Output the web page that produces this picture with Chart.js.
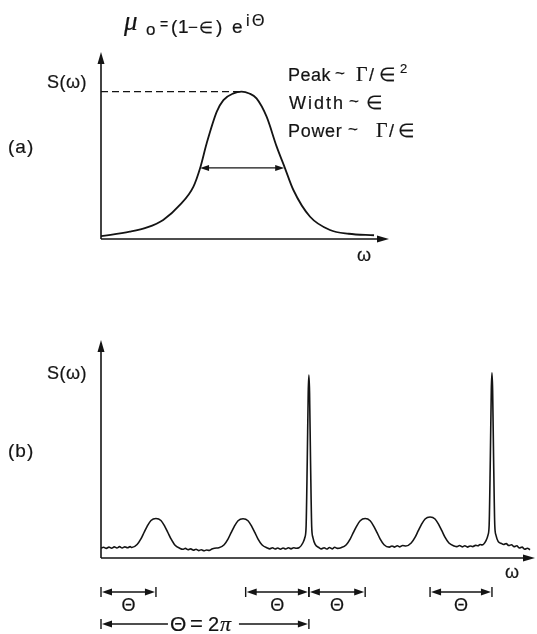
<!DOCTYPE html>
<html>
<head>
<meta charset="utf-8">
<script src="https://cdn.jsdelivr.net/npm/chart.js@4.4.1/dist/chart.umd.min.js"></script>
<style>
html, body { margin: 0; padding: 0; background: #fff; }
#wrap { position: relative; width: 537px; height: 634px; overflow: hidden; }
canvas { position: absolute; left: 0; }
#chartA { top: 0; }
#chartB { top: 300px; }
</style>
</head>
<body>
<div id="wrap">
  <canvas id="chartA" width="537" height="300"></canvas>
  <canvas id="chartB" width="537" height="334"></canvas>
</div>
<script>
// (a) 단일 공명 피크 S(ω)
const omegaA = [0, 1.0, 1.6, 2.16, 2.74, 3.21, 3.44, 3.67, 4.02, 4.25, 4.6, 4.88,
                5.15, 5.4, 5.75, 6.1, 6.39, 6.68, 7.26, 7.95, 8.6, 9.48];
const sA = [0.15, 0.39, 0.62, 1.02, 1.82, 2.8, 3.78, 5.12, 6.81, 7.43, 7.79, 7.88,
            7.78, 7.52, 6.54, 4.94, 3.78, 2.62, 1.19, 0.48, 0.28, 0.2];
const peakA = { omega: 4.88, s: 7.88 };
const widthA = { from: 3.44, to: 6.36, s: 3.8 };

// (b) 주기적 스펙트럼 (ω 단위: rad)
const omegaB = [
  0.00, 0.08, 0.16, 0.24, 0.32, 0.40, 0.48, 0.56, 0.64, 0.72, 0.80, 0.88,
  0.93, 1.09, 1.21, 1.30, 1.39, 1.51, 1.66, 1.81, 1.93, 2.02, 2.11, 2.23, 2.39,
  2.47, 2.55, 2.63, 2.71, 2.79, 2.87, 2.95, 3.03, 3.11, 3.19, 3.27, 3.35, 3.43,
  3.56, 3.72, 3.84, 3.93, 4.02, 4.14, 4.29, 4.44, 4.56, 4.65, 4.74, 4.86, 5.02,
  5.10, 5.18, 5.26, 5.34, 5.42, 5.50, 5.58, 5.66, 5.74, 5.82, 5.90,
  5.98, 6.10, 6.16, 6.195, 6.23, 6.26, 6.28, 6.30, 6.33, 6.365, 6.40, 6.47, 6.58,
  6.66, 6.74, 6.82, 6.90, 6.98, 7.06, 7.14,
  7.25, 7.41, 7.53, 7.62, 7.71, 7.83, 7.98, 8.13, 8.25, 8.34, 8.43, 8.55, 8.71,
  8.79, 8.87, 8.95, 9.03, 9.11,
  9.21, 9.37, 9.49, 9.58, 9.67, 9.79, 9.94, 10.09, 10.21, 10.30, 10.39, 10.51, 10.67,
  10.75, 10.83, 10.91, 10.99, 11.07, 11.15, 11.23, 11.31, 11.39, 11.45,
  11.51, 11.63, 11.69, 11.725, 11.76, 11.79, 11.81, 11.83, 11.86, 11.895, 11.93, 12.00, 12.08,
  12.16, 12.24, 12.32, 12.40, 12.48, 12.56, 12.64, 12.72, 12.80, 12.88, 12.96
];
const sB = [
  0.45, 0.49, 0.44, 0.50, 0.45, 0.51, 0.46, 0.52, 0.46, 0.51, 0.47, 0.52,
  0.48, 0.62, 0.89, 1.17, 1.44, 1.72, 1.81, 1.72, 1.44, 1.17, 0.89, 0.60, 0.44,
  0.40, 0.44, 0.38, 0.42, 0.36, 0.40, 0.34, 0.38, 0.33, 0.37, 0.35, 0.41, 0.45,
  0.47, 0.61, 0.88, 1.16, 1.43, 1.71, 1.80, 1.71, 1.43, 1.16, 0.88, 0.61, 0.46,
  0.42, 0.47, 0.41, 0.46, 0.40, 0.46, 0.41, 0.47, 0.42, 0.47, 0.45,
  0.47, 0.70, 0.95, 1.42, 4.40, 7.60, 8.39, 7.60, 4.40, 1.42, 0.95, 0.62, 0.48,
  0.42, 0.47, 0.41, 0.48, 0.42, 0.49, 0.44,
  0.47, 0.61, 0.88, 1.16, 1.43, 1.71, 1.81, 1.71, 1.43, 1.16, 0.88, 0.61, 0.50,
  0.55, 0.50, 0.56, 0.51, 0.57,
  0.55, 0.69, 0.96, 1.24, 1.51, 1.79, 1.88, 1.79, 1.51, 1.24, 0.96, 0.69, 0.55,
  0.52, 0.57, 0.51, 0.56, 0.50, 0.55, 0.52, 0.58, 0.56, 0.62,
  0.60, 0.80, 1.05, 1.50, 4.50, 7.70, 8.49, 7.70, 4.50, 1.50, 1.05, 0.75, 0.68,
  0.62, 0.66, 0.57, 0.61, 0.52, 0.56, 0.46, 0.50, 0.40, 0.45, 0.38
];
// Θ 구간 (ω 축 위 시작/끝)
const thetaSpans = [[0, 1.66], [4.37, 6.28], [6.28, 7.98], [9.94, 11.81]];
const twoPiSpan = [0, 6.28];

const INK = '#141414';
const SANS = '"Liberation Sans", Arial, sans-serif';
const SERIF = '"Liberation Serif", "DejaVu Serif", serif';

function arrowHead(ctx, x, y, dx, dy, len, half) {
    const bx = x - dx * len, by = y - dy * len;
    ctx.beginPath();
    ctx.moveTo(x, y);
    ctx.lineTo(bx - dy * half, by + dx * half);
    ctx.lineTo(bx + dy * half, by - dx * half);
    ctx.closePath();
    ctx.fill();
}

// 글자 하나씩 위치 지정 (살짝 굵게 보이도록 얇은 외곽선)
function put(ctx, str, x, y, font, spacing) {
    ctx.font = font;
    ctx.letterSpacing = (spacing || 0) + 'px';
    ctx.fillText(str, x, y);
    ctx.lineWidth = 0.2;
    ctx.strokeText(str, x, y);
    ctx.letterSpacing = '0px';
}

function span(ctx, x1, x2, y, gapFrom, gapTo) {
    ctx.lineWidth = 1.4;
    ctx.beginPath();
    ctx.moveTo(x1, y - 5); ctx.lineTo(x1, y + 5);
    ctx.moveTo(x2, y - 5); ctx.lineTo(x2, y + 5);
    if (gapFrom !== undefined) {
        ctx.moveTo(x1 + 4, y); ctx.lineTo(gapFrom, y);
        ctx.moveTo(gapTo, y); ctx.lineTo(x2 - 4, y);
    } else {
        ctx.moveTo(x1 + 4, y); ctx.lineTo(x2 - 4, y);
    }
    ctx.stroke();
    arrowHead(ctx, x1 + 1, y, -1, 0, 10, 3.5);
    arrowHead(ctx, x2 - 1, y, 1, 0, 10, 3.5);
}

const axesPlugin = {
    id: 'arrowAxes',
    beforeDatasetsDraw(chart) {
        const ctx = chart.ctx;
        const { left, right, top, bottom } = chart.chartArea;
        ctx.save();
        ctx.strokeStyle = INK;
        ctx.fillStyle = INK;
        ctx.lineWidth = 1.6;
        ctx.beginPath();
        ctx.moveTo(left, bottom); ctx.lineTo(left, top + 8);
        ctx.moveTo(left, bottom); ctx.lineTo(right - 8, bottom);
        ctx.stroke();
        arrowHead(ctx, left, top, 0, -1, 12, 3.5);
        arrowHead(ctx, right, bottom, 1, 0, 12, 3.5);
        ctx.restore();
    }
};

const panelAPlugin = {
    id: 'panelA',
    afterDraw(chart) {
        const ctx = chart.ctx;
        const x = chart.scales.x, y = chart.scales.y;
        ctx.save();
        ctx.strokeStyle = INK;
        ctx.fillStyle = INK;

        // 피크 높이 점선
        ctx.lineWidth = 1.1;
        ctx.setLineDash([7, 4]);
        ctx.beginPath();
        ctx.moveTo(x.getPixelForValue(0), y.getPixelForValue(peakA.s));
        ctx.lineTo(x.getPixelForValue(peakA.omega), y.getPixelForValue(peakA.s));
        ctx.stroke();
        ctx.setLineDash([]);

        // 폭 화살표
        const wy = y.getPixelForValue(widthA.s);
        const wx1 = x.getPixelForValue(widthA.from), wx2 = x.getPixelForValue(widthA.to);
        ctx.lineWidth = 1.3;
        ctx.beginPath();
        ctx.moveTo(wx1 + 5, wy); ctx.lineTo(wx2 - 5, wy);
        ctx.stroke();
        arrowHead(ctx, wx1, wy, -1, 0, 9, 3);
        arrowHead(ctx, wx2, wy, 1, 0, 9, 3);

        ctx.textBaseline = 'alphabetic';
        const f19 = `19px ${SANS}`, f18 = `18px ${SANS}`;
        // μo = (1−∈) e^iΘ
        put(ctx, 'μ', 124, 30, `italic 27px ${SERIF}`);
        put(ctx, 'o', 146, 35, `17px ${SANS}`);
        put(ctx, '=', 160, 29, `14px ${SANS}`);
        put(ctx, '(', 171, 33, f19);
        put(ctx, '1', 178, 33, f19);
        put(ctx, '−', 188, 33, `17px ${SANS}`);
        put(ctx, '∈', 199, 33, `16px ${SANS}`);
        put(ctx, ')', 216, 33, f19);
        put(ctx, 'e', 232, 33, f19);
        put(ctx, 'i', 246, 26, `16px ${SANS}`);
        put(ctx, 'Θ', 252, 26, `16px ${SANS}`);

        put(ctx, 'S(ω)', 47, 88, f18, 0.5);
        put(ctx, '(a)', 8, 153, `19px ${SANS}`, 1);
        put(ctx, 'ω', 357, 261, f18);

        put(ctx, 'Peak', 288, 81, f18, 0.5);
        put(ctx, '~', 335, 79, `17px ${SANS}`);
        put(ctx, 'Γ', 356, 81, `20px ${SERIF}`);
        put(ctx, '/', 369, 81, f18);
        put(ctx, '∈', 379, 81, `19px ${SANS}`);
        put(ctx, '2', 400, 73, `13px ${SANS}`);

        put(ctx, 'Width', 289, 109, f18, 2);
        put(ctx, '~', 349, 107, `17px ${SANS}`);
        put(ctx, '∈', 366, 109, `19px ${SANS}`);

        put(ctx, 'Power', 288, 137, f18, 0.7);
        put(ctx, '~', 348, 135, `17px ${SANS}`);
        put(ctx, 'Γ', 376, 137, `20px ${SERIF}`);
        put(ctx, '/', 389, 137, f18);
        put(ctx, '∈', 398, 137, `19px ${SANS}`);
        ctx.restore();
    }
};

const panelBPlugin = {
    id: 'panelB',
    afterDraw(chart) {
        const ctx = chart.ctx;
        const x = chart.scales.x;
        const base = chart.chartArea.bottom;
        ctx.save();
        ctx.strokeStyle = INK;
        ctx.fillStyle = INK;
        ctx.textBaseline = 'alphabetic';

        thetaSpans.forEach(([a, b]) => {
            const x1 = x.getPixelForValue(a), x2 = x.getPixelForValue(b);
            span(ctx, x1, x2, base + 34);
            ctx.textAlign = 'center';
            put(ctx, 'Θ', (x1 + x2) / 2, base + 53, `18px ${SANS}`);
            ctx.textAlign = 'left';
        });

        const p1 = x.getPixelForValue(twoPiSpan[0]), p2 = x.getPixelForValue(twoPiSpan[1]);
        const mid = (p1 + p2) / 2;
        span(ctx, p1, p2, base + 66, mid - 37, mid + 34);
        const ty = base + 73;
        put(ctx, 'Θ', mid - 35, ty, `21px ${SANS}`);
        put(ctx, '=', mid - 15, ty, `22px ${SANS}`);
        put(ctx, '2', mid + 3, ty, `20px ${SANS}`);
        put(ctx, 'π', mid + 15, ty, `italic 22px ${SERIF}`);

        put(ctx, 'S(ω)', 47, 79, `18px ${SANS}`, 0.5);
        put(ctx, '(b)', 8, 157, `19px ${SANS}`, 1);
        put(ctx, 'ω', 505, 278, `18px ${SANS}`);
        ctx.restore();
    }
};

function lineChart(id, xs, ys, xMax, padding, width, plugins) {
    return new Chart(document.getElementById(id), {
        type: 'line',
        data: {
            datasets: [{
                data: xs.map((w, i) => ({ x: w, y: ys[i] })),
                borderColor: INK,
                borderWidth: width,
                pointRadius: 0,
                fill: false,
                cubicInterpolationMode: 'monotone'
            }]
        },
        options: {
            responsive: false,
            animation: false,
            events: [],
            layout: { padding: padding },
            plugins: { legend: { display: false }, tooltip: { enabled: false } },
            scales: {
                x: { type: 'linear', min: 0, max: xMax, display: false },
                y: { min: 0, max: 10, display: false }
            }
        },
        plugins: plugins
    });
}

document.addEventListener('DOMContentLoaded', function() {
    lineChart('chartA', omegaA, sA, 10, { left: 101, right: 148, top: 52, bottom: 61 }, 1.8,
        [axesPlugin, panelAPlugin]);
    lineChart('chartB', omegaB, sB, 13.11, { left: 101, right: 2, top: 40, bottom: 76 }, 1.6,
        [axesPlugin, panelBPlugin]);
});
</script>
</body>
</html>
